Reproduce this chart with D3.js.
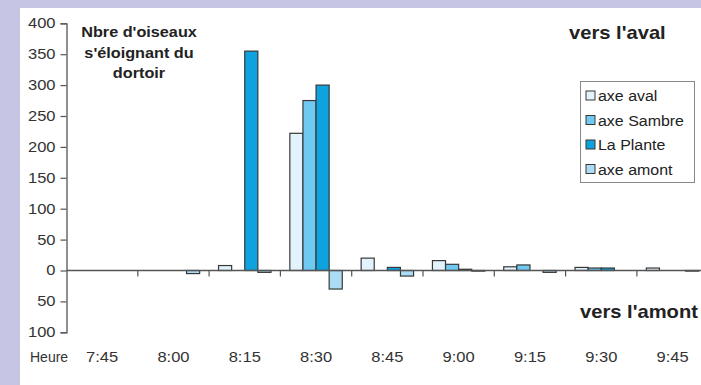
<!DOCTYPE html>
<html>
<head>
<meta charset="utf-8">
<script src="https://cdn.jsdelivr.net/npm/d3@7"></script>
<style>
  html, body { margin: 0; padding: 0; background: #fff; }
  svg { display: block; }
  text { font-family: "Liberation Sans", Arial, sans-serif; }
</style>
</head>
<body>
<svg id="chart" width="701" height="385"></svg>
<script>
// ---- data ----
const categories = ["7:45", "8:00", "8:15", "8:30", "8:45", "9:00", "9:15", "9:30", "9:45"];
const seriesNames = ["axe aval", "axe Sambre", "La Plante", "axe amont"];
const axeAval   = [0, 0, 8, 222, 20, 16, 6, 5, 4];
const axeSambre = [0, 0, 0, 275, 0, 10, 9, 4, 0];
const laPlante  = [0, 0, 355, 300, 5, 2, 0, 4, 0];
const axeAmont  = [0, -5, -3, -30, -9, -1, -3, 0, -1];
const yTicks = [-100, -50, 0, 50, 100, 150, 200, 250, 300, 350, 400];
const seriesValues = [axeAval, axeSambre, laPlante, axeAmont];
const colors = ["#e2f3fc", "#6fc9f1", "#0ea2de", "#abdcf4"];

const svg = d3.select("#chart");
const W = 701, H = 385;

// frame
svg.append("rect").attr("x", 0).attr("y", 0).attr("width", W).attr("height", H).attr("fill", "#c6c6e4");
svg.append("rect").attr("x", 20).attr("y", 8).attr("width", W - 20).attr("height", H - 8).attr("fill", "#ffffff");

// scales
const x0 = d3.scaleBand().domain(categories).range([66.5, 66.5 + 71.3 * categories.length]).paddingInner(0).paddingOuter(0);
const x1 = d3.scaleBand().domain(seriesNames).range([0, x0.bandwidth()]).paddingInner(0).paddingOuter(0.72);
const y = d3.scaleLinear().domain([-100, 400]).range([332.3, 23.3]);

// data table
const table = [];
categories.forEach((c, i) => {
  seriesNames.forEach((s, j) => {
    table.push({ cat: c, series: s, value: seriesValues[j][i], color: colors[j] });
  });
});

// bars
svg.append("g").selectAll("rect")
  .data(table.filter(d => d.value !== 0))
  .join("rect")
  .attr("x", d => x0(d.cat) + x1(d.series))
  .attr("width", x1.bandwidth())
  .attr("y", d => y(Math.max(0, d.value)))
  .attr("height", d => Math.abs(y(d.value) - y(0)))
  .attr("fill", d => d.color)
  .attr("stroke", "#383838")
  .attr("stroke-width", 1.2);

// y axis
const yAxis = d3.axisLeft(y).tickValues(yTicks).tickFormat(d => Math.abs(d)).tickSize(6).tickPadding(5);
const gy = svg.append("g").attr("transform", "translate(66.5,0)").call(yAxis);
gy.select(".domain").attr("stroke", "#555").attr("stroke-width", 1.3);
gy.selectAll(".tick line").attr("stroke", "#555").attr("stroke-width", 1.2);
gy.selectAll(".tick text")
  .attr("font-size", 14).attr("fill", "#333")
  .attr("font-family", "Liberation Sans, Arial, sans-serif")
  .each(function() {
    const t = d3.select(this);
    const tr = d3.select(this.parentNode).attr("transform");
    t.attr("transform", "translate(-11,0) scale(1.18,1) translate(11,0)");
  });

// x axis line at zero
const xr = x0.range();
svg.append("line").attr("x1", xr[0]).attr("x2", xr[1]).attr("y1", y(0)).attr("y2", y(0))
  .attr("stroke", "#555").attr("stroke-width", 1.3);
// ticks between categories
svg.append("g").selectAll("line")
  .data(categories.slice(1))
  .join("line")
  .attr("x1", d => x0(d)).attr("x2", d => x0(d))
  .attr("y1", y(0)).attr("y2", y(0) + 6)
  .attr("stroke", "#555").attr("stroke-width", 1.2);

// category labels
svg.append("g").selectAll("text")
  .data(categories)
  .join("text")
  .attr("transform", d => `translate(${x0(d) + x0.bandwidth() / 2},362) scale(1.18,1)`)
  .attr("text-anchor", "middle")
  .attr("font-size", 14)
  .attr("fill", "#333")
  .text(d => d);

svg.append("text").attr("x", 30).attr("y", 362).attr("font-size", 14).attr("fill", "#333").text("Heure");

// title text
const titleLines = ["Nbre d'oiseaux", "s'éloignant du", "dortoir"];
svg.append("g").selectAll("text")
  .data(titleLines)
  .join("text")
  .attr("transform", (d, i) => `translate(139,${37 + i * 20.5}) scale(1.12,1)`)
  .attr("text-anchor", "middle")
  .attr("font-size", 14.5)
  .attr("font-weight", "bold")
  .attr("fill", "#222")
  .text(d => d);

svg.append("text").attr("transform", "translate(569,39) scale(1.12,1)")
  .attr("font-size", 18).attr("font-weight", "bold").attr("fill", "#222").text("vers l'aval");
svg.append("text").attr("transform", "translate(580,318) scale(1.12,1)")
  .attr("font-size", 18).attr("font-weight", "bold").attr("fill", "#222").text("vers l'amont");

// legend
const lg = svg.append("g");
lg.append("rect").attr("x", 580.5).attr("y", 81.5).attr("width", 114).attr("height", 101)
  .attr("fill", "#fff").attr("stroke", "#888").attr("stroke-width", 1);
const items = lg.selectAll("g.item").data(seriesNames).join("g").attr("class", "item")
  .attr("transform", (d, i) => `translate(586,${96 + i * 24.5})`);
items.append("rect").attr("x", 0).attr("y", -5).attr("width", 9).attr("height", 9)
  .attr("fill", (d, i) => colors[i]).attr("stroke", "#383838").attr("stroke-width", 1);
items.append("text").attr("transform", "translate(12,5) scale(1.1,1)")
  .attr("font-size", 14.5).attr("fill", "#222").text(d => d);
</script>
</body>
</html>
